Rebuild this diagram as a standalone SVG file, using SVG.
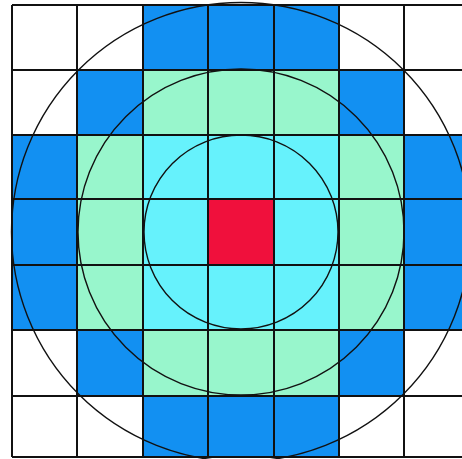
<svg xmlns="http://www.w3.org/2000/svg" width="462" height="459" viewBox="0 0 462 459">
<style>
.w{fill:#ffffff}.b{fill:#1290f2}.g{fill:#98f6cc}.c{fill:#66f2fc}.r{fill:#f0103c}
.grid{stroke:#111;stroke-width:2;fill:none}
.circ{stroke:#111;stroke-width:1.4;fill:none}
</style>
<rect x="0" y="0" width="462" height="459" fill="#ffffff"/>
<g id="cells">
<rect class="b" x="143" y="5" width="196" height="65"/>
<rect class="b" x="77" y="70" width="66" height="65"/><rect class="g" x="143" y="70" width="196" height="65"/><rect class="b" x="339" y="70" width="65" height="65"/>
<rect class="b" x="12" y="135" width="65" height="195"/><rect class="b" x="404" y="135" width="58" height="195"/>
<rect class="g" x="77" y="135" width="66" height="195"/><rect class="g" x="339" y="135" width="65" height="195"/>
<rect class="c" x="143" y="135" width="196" height="195"/>
<rect class="r" x="208" y="199" width="66" height="66"/>
<rect class="b" x="77" y="330" width="66" height="66"/><rect class="g" x="143" y="330" width="196" height="66"/><rect class="b" x="339" y="330" width="65" height="66"/>
<rect class="b" x="143" y="396" width="196" height="61"/>
</g>
<g id="circles">
<circle class="circ" cx="241" cy="232" r="97"/>
<circle class="circ" cx="241" cy="232" r="163"/>
<circle class="circ" cx="241" cy="232" r="229.5"/>
</g>
<g id="grid" class="grid">
<line x1="12" y1="5" x2="462" y2="5"/>
<line x1="12" y1="70" x2="462" y2="70"/>
<line x1="12" y1="135" x2="462" y2="135"/>
<line x1="12" y1="199" x2="462" y2="199"/>
<line x1="12" y1="265" x2="462" y2="265"/>
<line x1="12" y1="330" x2="462" y2="330"/>
<line x1="12" y1="396" x2="462" y2="396"/>
<line x1="12" y1="457" x2="462" y2="457"/>
<line x1="12" y1="5" x2="12" y2="457"/>
<line x1="77" y1="5" x2="77" y2="457"/>
<line x1="143" y1="5" x2="143" y2="457"/>
<line x1="208" y1="5" x2="208" y2="457"/>
<line x1="274" y1="5" x2="274" y2="457"/>
<line x1="339" y1="5" x2="339" y2="457"/>
<line x1="404" y1="5" x2="404" y2="457"/>
</g>
</svg>
